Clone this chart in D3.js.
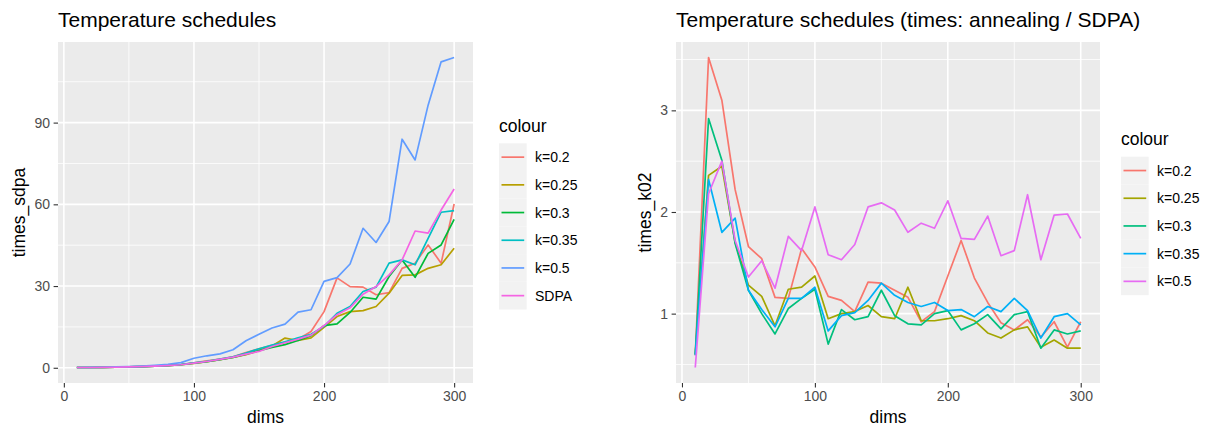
<!DOCTYPE html>
<html><head><meta charset="utf-8">
<script src="https://cdn.jsdelivr.net/npm/d3@7"></script>
<style>
html,body{margin:0;padding:0;background:#fff;}
svg{display:block;font-family:"Liberation Sans",Arial,Helvetica,sans-serif;}
</style></head>
<body><svg id="chart" width="1211" height="428"></svg>
<script>
// ---------- data ----------
const dims = [10,20,30,40,50,60,70,80,90,100,110,120,130,140,150,160,170,180,190,200,210,220,230,240,250,260,270,280,290,300];

// left panel: times_sdpa
const leftSeries = ["k=0.2","k=0.25","k=0.3","k=0.35","k=0.5","SDPA"];
const leftColors = ["#F8766D","#B79F00","#00BA38","#00BFC4","#619CFF","#F564E3"];
const sdpa_k020 = [0.1,0.1,0.15,0.2,0.3,0.4,0.6,0.9,1.2,1.8,2.5,3.2,4.0,5.6,7.0,8.2,9.3,10.5,13.3,20.6,33.0,29.8,29.6,26.8,27.6,36.5,38.4,45.1,38.4,60.1];
const sdpa_k025 = [0.1,0.1,0.15,0.2,0.3,0.4,0.6,0.8,1.1,1.6,2.2,3.0,3.8,4.8,6.3,8.0,10.9,10.0,11.0,14.8,18.8,20.6,21.0,22.5,27.4,33.9,34.1,36.5,37.8,43.9];
const sdpa_k030 = [0.1,0.1,0.15,0.2,0.3,0.4,0.6,0.8,1.1,1.7,2.2,3.0,3.8,5.0,6.3,7.5,8.5,10.0,11.8,15.5,16.1,20.3,25.9,25.2,33.5,39.6,33.2,42.0,45.1,54.5];
const sdpa_k035 = [0.1,0.1,0.15,0.2,0.3,0.4,0.6,0.9,1.2,1.8,2.4,3.2,4.0,5.4,7.0,8.3,9.5,11.0,12.3,15.2,20.0,22.5,28.0,29.6,38.4,39.6,37.8,47.5,57.1,57.7];
const sdpa_k050 = [0.1,0.15,0.2,0.3,0.4,0.6,0.9,1.3,1.9,3.5,4.4,5.1,6.6,9.9,12.3,14.6,16.0,20.4,21.3,31.7,33.1,38.1,51.2,46.0,53.7,83.9,76.3,96.4,112.3,113.9];
const sdpa_sdpa = [0.1,0.1,0.15,0.2,0.3,0.4,0.6,0.8,1.1,1.7,2.3,3.1,3.9,5.0,6.0,7.8,9.2,10.5,12.0,15.5,19.5,22.0,27.0,29.8,34.1,39.6,50.2,49.4,57.9,65.6];

// right panel: times_k02
const rightSeries = ["k=0.2","k=0.25","k=0.3","k=0.35","k=0.5"];
const rightColors = ["#F8766D","#A3A500","#00BF7D","#00B0F6","#E76BF3"];
const k02_k020 = [0.59,3.52,3.10,2.22,1.66,1.54,1.16,1.15,1.64,1.46,1.17,1.13,1.02,1.31,1.30,1.23,1.16,0.92,1.02,1.37,1.72,1.35,1.11,0.91,0.84,0.94,0.77,0.92,0.67,0.92];
const k02_k025 = [0.60,2.36,2.45,1.70,1.28,1.17,0.88,1.24,1.26,1.37,0.95,1.00,1.02,1.08,0.97,0.95,1.26,0.93,0.93,0.95,0.98,0.93,0.81,0.76,0.84,0.87,0.67,0.74,0.66,0.66];
const k02_k030 = [0.60,2.92,2.51,1.69,1.23,1.00,0.80,1.05,1.15,1.24,0.70,1.04,0.94,0.97,1.23,0.98,0.90,0.89,1.00,1.03,0.84,0.90,0.99,0.85,0.99,1.02,0.66,0.84,0.80,0.83];
const k02_k035 = [0.59,2.32,1.80,1.94,1.23,1.04,0.87,1.15,1.15,1.26,0.83,0.98,1.01,1.13,1.30,1.18,1.11,1.07,1.11,1.03,1.04,0.97,1.07,1.02,1.15,1.03,0.76,0.97,1.00,0.89];
const k02_k050 = [0.47,2.18,2.50,1.72,1.36,1.52,1.25,1.76,1.62,2.05,1.58,1.53,1.68,2.05,2.09,2.02,1.80,1.89,1.84,2.11,1.74,1.73,1.96,1.57,1.62,2.17,1.53,1.97,1.98,1.74];

const xTicks = [0,100,200,300];
const xMinor = [50,150,250];
const leftYTicks = [0,30,60,90];
const leftYMinor = [15,45,75,105];
const rightYTicks = [1,2,3];
const rightYMinor = [0.5,1.5,2.5,3.5];

// ---------- drawing ----------
const svg = d3.select("#chart");

function expandDomain(vals){
  const lo = d3.min(vals), hi = d3.max(vals), pad = (hi-lo)*0.05;
  return [lo-pad, hi+pad];
}

function drawPanel(cfg){
  const g = svg.append("g");
  const x = d3.scaleLinear().domain(expandDomain(dims)).range([cfg.left, cfg.right]);
  const allY = cfg.values.flat();
  const y = d3.scaleLinear().domain(expandDomain(allY)).range([cfg.bottom, cfg.top]);

  g.append("rect").attr("x",cfg.left).attr("y",cfg.top)
    .attr("width",cfg.right-cfg.left).attr("height",cfg.bottom-cfg.top).attr("fill","#EBEBEB");
  g.selectAll(".xm").data(cfg.xMinor).join("line")
    .attr("x1",d=>x(d)).attr("x2",d=>x(d)).attr("y1",cfg.top).attr("y2",cfg.bottom)
    .attr("stroke","#fff").attr("stroke-width",0.8);
  g.selectAll(".ym").data(cfg.yMinor.filter(v=>y(v)>=cfg.top && y(v)<=cfg.bottom)).join("line")
    .attr("y1",d=>y(d)).attr("y2",d=>y(d)).attr("x1",cfg.left).attr("x2",cfg.right)
    .attr("stroke","#fff").attr("stroke-width",0.8);
  g.selectAll(".xg").data(cfg.xTicks).join("line")
    .attr("x1",d=>x(d)).attr("x2",d=>x(d)).attr("y1",cfg.top).attr("y2",cfg.bottom)
    .attr("stroke","#fff").attr("stroke-width",1.6);
  g.selectAll(".yg").data(cfg.yTicks).join("line")
    .attr("y1",d=>y(d)).attr("y2",d=>y(d)).attr("x1",cfg.left).attr("x2",cfg.right)
    .attr("stroke","#fff").attr("stroke-width",1.6);

  const line = d3.line().x((d,i)=>x(dims[i])).y(d=>y(d));
  cfg.values.forEach((vals,i)=>{
    g.append("path").datum(vals).attr("d",line)
      .attr("fill","none").attr("stroke",cfg.colors[i]).attr("stroke-width",1.7)
      .attr("stroke-linejoin","round");
  });

  const fmt = d3.format("d");
  const xAxis = d3.axisBottom(x).tickValues(cfg.xTicks).tickFormat(fmt).tickSize(4.4).tickPadding(3.5);
  const gx = g.append("g").attr("transform",`translate(0,${cfg.bottom})`).call(xAxis);
  const yAxis = d3.axisLeft(y).tickValues(cfg.yTicks).tickFormat(fmt).tickSize(4.4).tickPadding(3.5);
  const gy = g.append("g").attr("transform",`translate(${cfg.left},0)`).call(yAxis);
  [gx,gy].forEach(a=>{
    a.select(".domain").remove();
    a.selectAll(".tick line").attr("stroke","#333").attr("stroke-width",1.1);
    a.selectAll(".tick text").attr("fill","#4D4D4D").style("font-size","14px")
      .style("font-family","'Liberation Sans',Arial,sans-serif");
  });

  g.append("text").attr("x",(cfg.left+cfg.right)/2).attr("y",423)
    .attr("text-anchor","middle").style("font-size","17.5px").attr("fill","#000").text(cfg.xTitle);
  g.append("text").attr("transform",`translate(${cfg.yTitleX},${(cfg.top+cfg.bottom)/2}) rotate(-90)`)
    .attr("text-anchor","middle").style("font-size","17.5px").attr("fill","#000").text(cfg.yTitle);
  g.append("text").attr("x",cfg.left).attr("y",27)
    .style("font-size","21px").attr("fill","#000").text(cfg.title);

  const L = cfg.legend, keyH = 27.7;
  g.append("text").attr("x",L.x).attr("y",L.top-11.8).style("font-size","17.5px").attr("fill","#000").text("colour");
  const items = g.selectAll(".leg").data(cfg.names).join("g")
    .attr("transform",(d,i)=>`translate(${L.x},${L.top+i*keyH})`);
  items.append("rect").attr("width",27.7).attr("height",keyH).attr("fill","#F2F2F2");
  items.append("line").attr("x1",2.5).attr("x2",25.2).attr("y1",keyH/2).attr("y2",keyH/2)
    .attr("stroke",(d,i)=>cfg.colors[i]).attr("stroke-width",1.7);
  items.append("text").attr("x",36).attr("y",keyH/2).attr("dy","0.36em")
    .style("font-size","14px").attr("fill","#000").text(d=>d);
}

drawPanel({
  left:58, right:473, top:42, bottom:383,
  values:[sdpa_k020,sdpa_k025,sdpa_k030,sdpa_k035,sdpa_k050,sdpa_sdpa],
  names:leftSeries, colors:leftColors,
  xTicks, xMinor, yTicks:leftYTicks, yMinor:leftYMinor,
  xTitle:"dims", yTitle:"times_sdpa", yTitleX:25,
  title:"Temperature schedules",
  legend:{x:499, top:143.3}
});

drawPanel({
  left:676, right:1100, top:42, bottom:383,
  values:[k02_k020,k02_k025,k02_k030,k02_k035,k02_k050],
  names:rightSeries, colors:rightColors,
  xTicks, xMinor, yTicks:rightYTicks, yMinor:rightYMinor,
  xTitle:"dims", yTitle:"times_k02", yTitleX:651,
  title:"Temperature schedules (times: annealing / SDPA)",
  legend:{x:1121, top:156.7}
});
</script></body></html>
